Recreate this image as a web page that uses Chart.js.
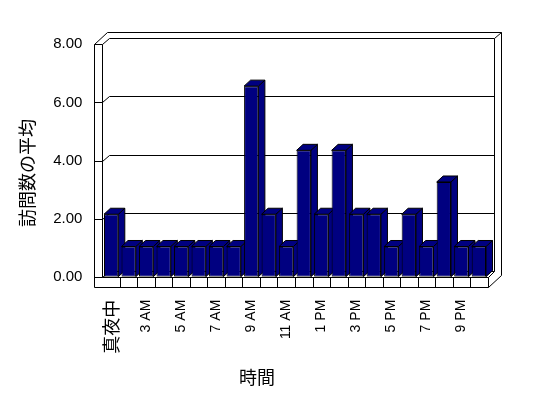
<!DOCTYPE html>
<html><head><meta charset="utf-8">
<script src="https://cdn.jsdelivr.net/npm/chart.js@4"></script>
<style>html,body{margin:0;padding:0;background:#fff;}#wrap{width:548px;height:398px;}</style>
</head><body><div id="wrap"><canvas id="c" width="548" height="398"></canvas></div>
<script>
const categories = ['真夜中','1 AM','3 AM','4 AM','5 AM','6 AM','7 AM','8 AM','9 AM','10 AM','11 AM','12 PM','1 PM','2 PM','3 PM','4 PM','5 PM','6 PM','7 PM','8 PM','9 PM','10 PM'];
const visits = [2.15,1.04,1.04,1.04,1.04,1.04,1.04,1.04,6.56,2.15,1.04,4.35,2.15,4.35,2.15,2.15,1.04,2.15,1.04,3.26,1.04,1.04];
const yTicks = [0,2,4,6,8];
const xTitle = '時間';
const yTitle = '訪問数の平均';

const CJK = '"Noto Sans CJK JP", "Liberation Sans", sans-serif';
const LAT = '"Liberation Sans", "Noto Sans CJK JP", sans-serif';
const NAVY = '#000080';
const DX = 6.5, DY = -6;

const box3d = {
  id: 'box3d',
  beforeDatasetsDraw(chart) {
    const {ctx, chartArea, scales} = chart;
    const L = chartArea.left, R = chartArea.right, T = chartArea.top, B = chartArea.bottom;
    const X0 = L - 8.4, FB = B + 9.8;
    const xs = scales.x, ys = scales.y;
    const p = v => Math.round(v) + 0.5;
    const line = (x1, y1, x2, y2) => { ctx.beginPath(); ctx.moveTo(p(x1), p(y1)); ctx.lineTo(p(x2), p(y2)); ctx.stroke(); };
    ctx.save();
    ctx.strokeStyle = '#000'; ctx.lineWidth = 1;
    // back wall & outer frame
    line(R + DX, T + DY, R + DX, B + DY);
    line(X0 + 2 * DX, T + 2 * DY, R + 2 * DX, T + 2 * DY);
    line(R + DX, T + DY, R + 2 * DX, T + 2 * DY);
    line(R + 2 * DX, T + 2 * DY, R + 2 * DX, FB + 2 * DY);
    // left wall
    line(X0, T, X0, FB);
    line(L, T, L, B);
    line(X0, T, X0 + 2 * DX, T + 2 * DY);
    // gridlines
    yTicks.forEach(v => {
      const yy = ys.getPixelForValue(v);
      line(X0, yy, L, yy);
      line(L, yy, L + DX, yy + DY);
      line(L + DX, yy + DY, R + DX, yy + DY);
    });
    // floor
    line(L, B, R, B);
    line(X0, FB, R, FB);
    const n = categories.length;
    for (let k = 1; k <= n; k++) {
      const xx = k < n ? (xs.getPixelForValue(k - 1) + xs.getPixelForValue(k)) / 2 : R;
      line(xx, B, xx, FB);
    }
    line(R, FB, R + 2 * DX, FB + 2 * DY);
    line(R, B, R + DX, B + DY);
    // bar side and top faces
    const meta = chart.getDatasetMeta(0);
    ctx.fillStyle = NAVY;
    meta.data.forEach(el => {
      const {x, y, base, width} = el.getProps(['x', 'y', 'base', 'width'], true);
      const l = x - width / 2, r = x + width / 2;
      ctx.beginPath();
      ctx.moveTo(r, y); ctx.lineTo(r + DX, y + DY); ctx.lineTo(r + DX, base + DY); ctx.lineTo(r, base); ctx.closePath();
      ctx.fill(); ctx.stroke();
      ctx.beginPath();
      ctx.moveTo(l, y); ctx.lineTo(l + DX, y + DY); ctx.lineTo(r + DX, y + DY); ctx.lineTo(r, y); ctx.closePath();
      ctx.fill(); ctx.stroke();
    });
    ctx.restore();
  },
  afterDraw(chart) {
    const ctx = chart.ctx;
    ctx.save();
    ctx.fillStyle = '#000';
    ctx.font = '18px ' + CJK;
    ctx.textAlign = 'center'; ctx.textBaseline = 'middle';
    ctx.fillText(xTitle, 257, 377);
    ctx.translate(27, 173);
    ctx.rotate(-Math.PI / 2);
    ctx.fillText(yTitle, 0, 0);
    ctx.restore();
  }
};

new Chart(document.getElementById('c'), {
  type: 'bar',
  data: {
    labels: categories,
    datasets: [{
      data: visits,
      backgroundColor: NAVY,
      borderColor: '#000',
      borderWidth: 1,
      borderSkipped: false,
      barPercentage: 0.817,
      categoryPercentage: 1
    }]
  },
  options: {
    responsive: false,
    animation: false,
    devicePixelRatio: 1,
    layout: {padding: {top: 44.3, right: 60.4, bottom: 0, left: 0}},
    plugins: {legend: {display: false}, tooltip: {enabled: false}},
    scales: {
      x: {
        grid: {display: false, drawTicks: false},
        border: {display: false},
        ticks: {
          autoSkip: false, minRotation: 90, maxRotation: 90, padding: 23, color: '#000',
          callback: (v, i) => i % 2 === 0 ? categories[i] : '',
          font: c => c.index === 0 ? {family: CJK, size: 18} : {family: LAT, size: 14}
        },
        afterFit: s => { s.height = 121.3; }
      },
      y: {
        min: 0, max: 8,
        grid: {display: false, drawTicks: false},
        border: {display: false},
        afterBuildTicks: s => { s.ticks = yTicks.map(v => ({value: v})); },
        ticks: {padding: 20, color: '#000', font: {family: LAT, size: 15}, callback: v => Number(v).toFixed(2)},
        afterFit: s => { s.width = 102.4; }
      }
    }
  },
  plugins: [box3d]
});
</script>
</body></html>
